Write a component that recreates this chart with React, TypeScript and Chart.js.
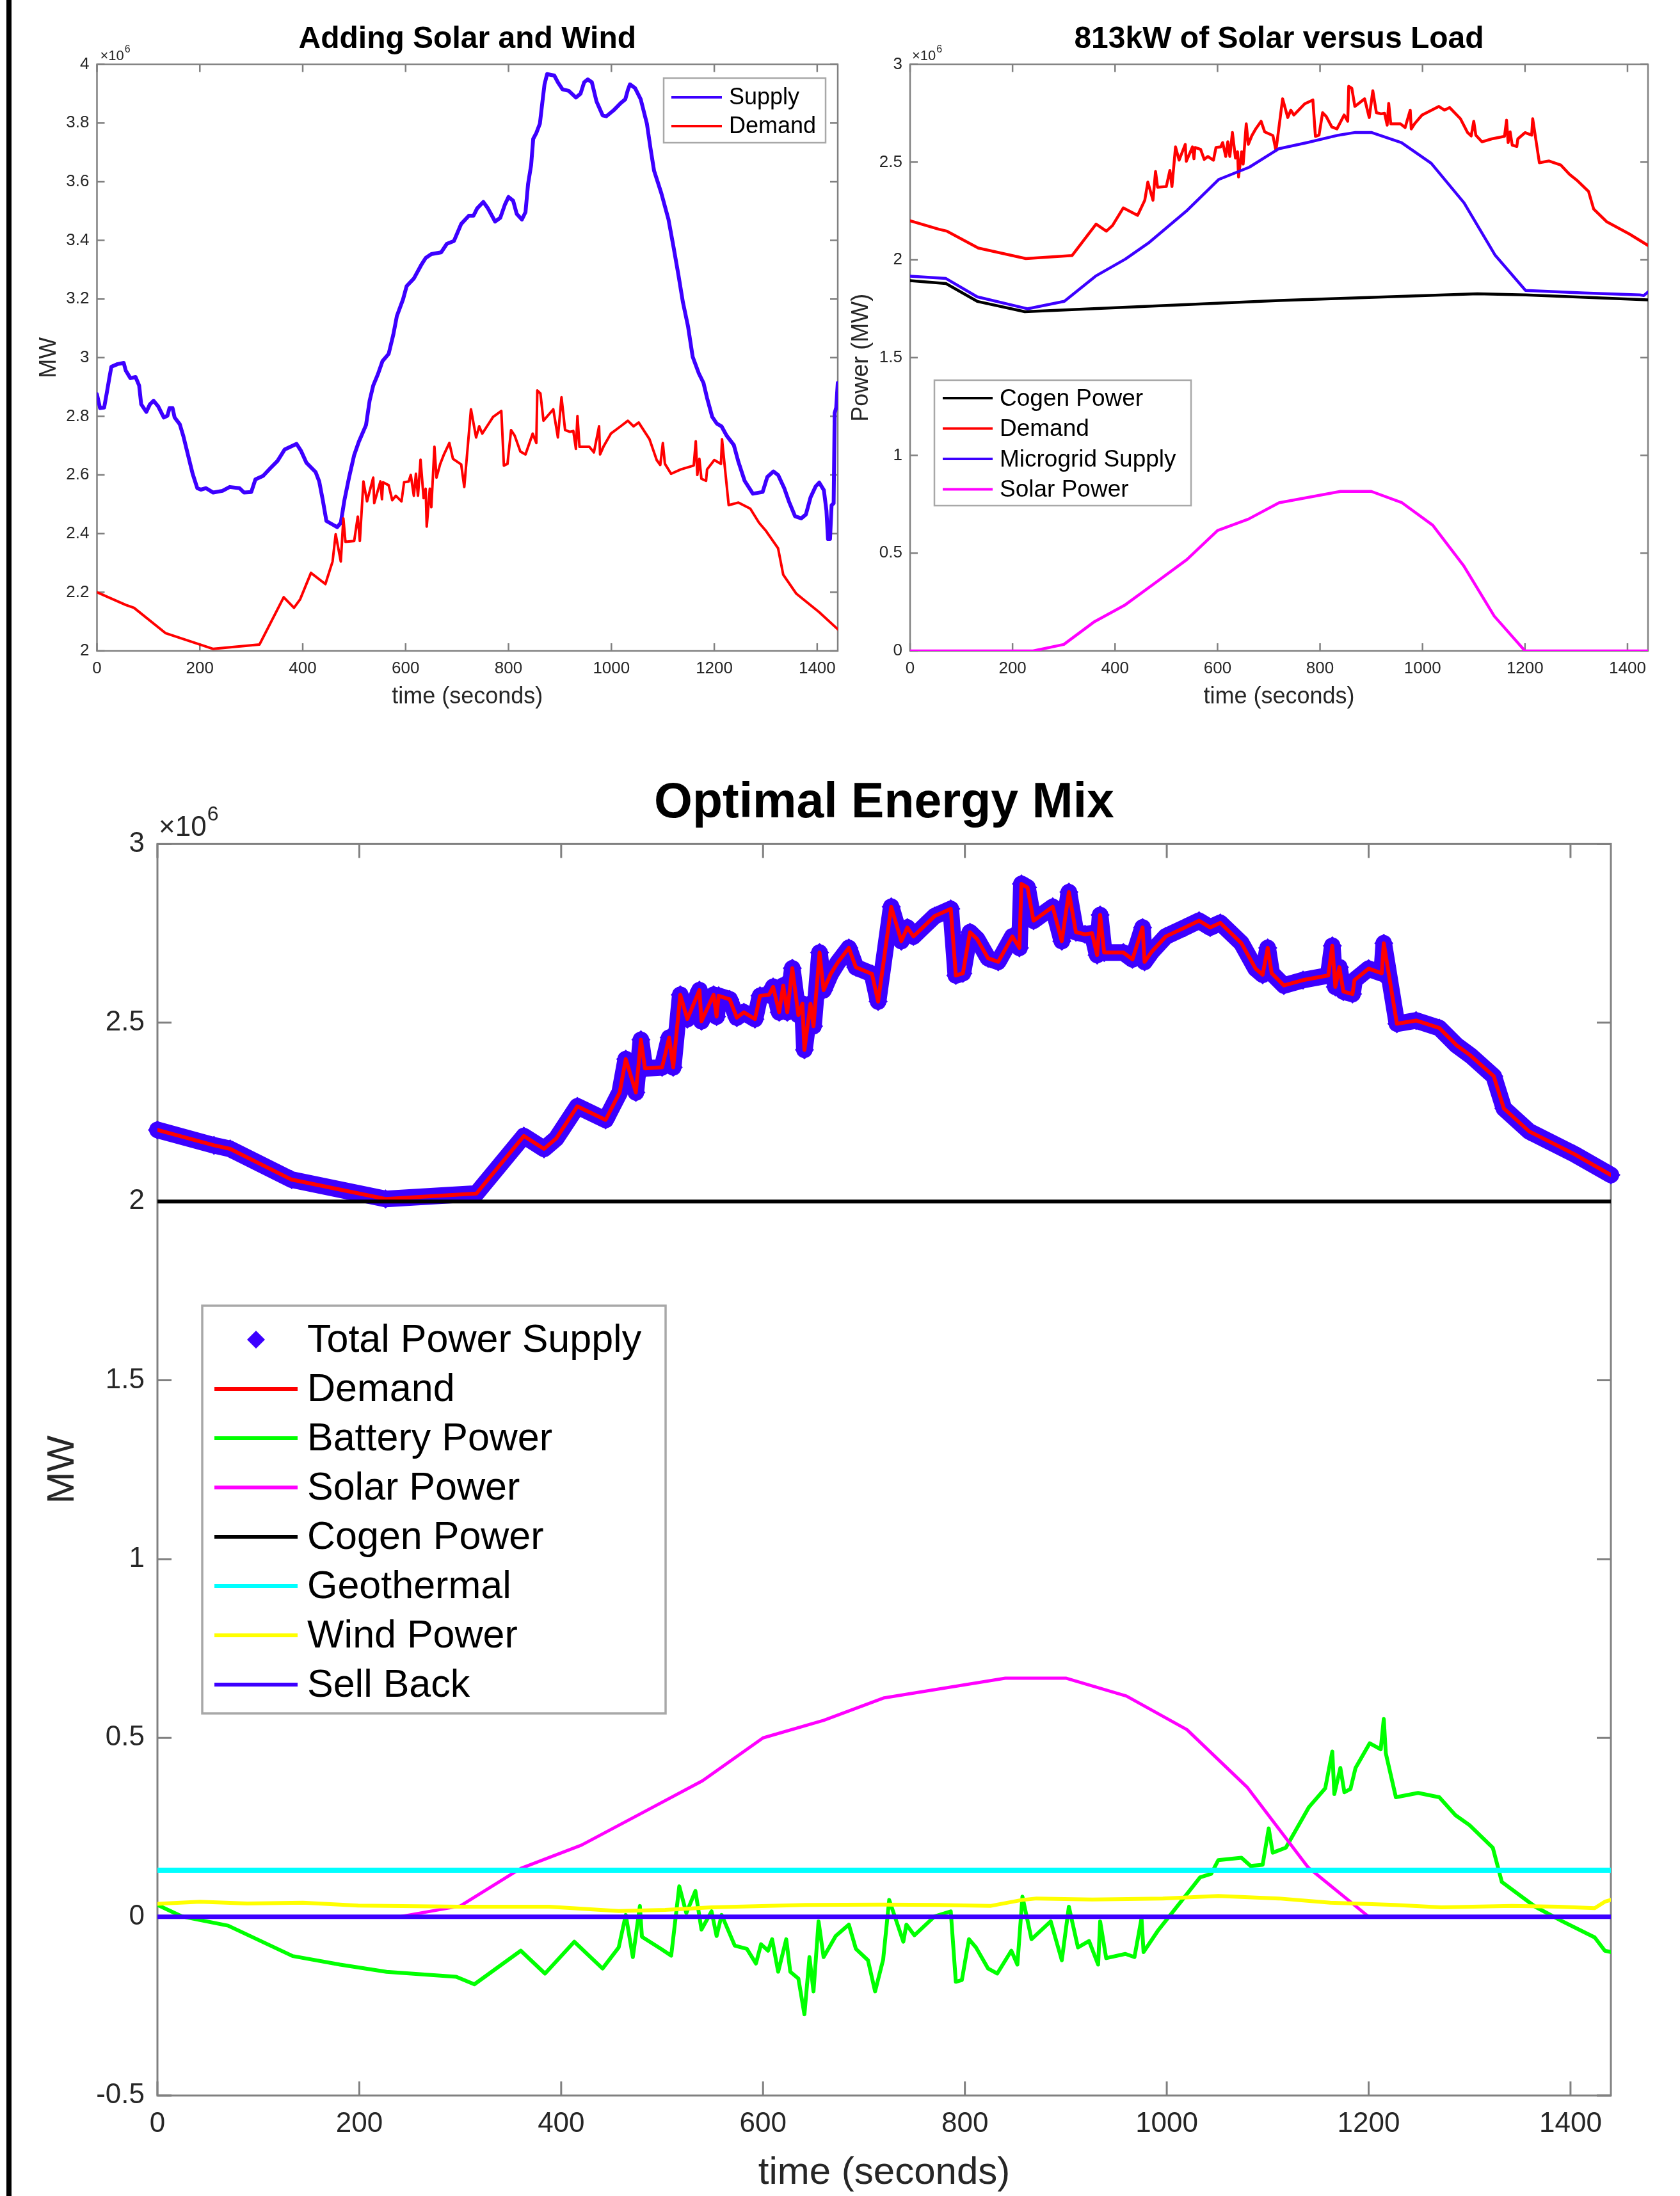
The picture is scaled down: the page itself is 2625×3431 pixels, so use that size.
import React, { useEffect, useRef } from 'react';
import { Chart, registerables } from 'chart.js';

Chart.register(...registerables);

type Pt = [number, number];

const FONT = "'Liberation Sans', Arial, Helvetica, sans-serif";
const BLUE = '#3c00ff';
const RED = '#ff0000';
const GREEN = '#00ff00';
const MAGENTA = '#ff00ff';
const CYAN = '#00ffff';
const YELLOW = '#ffff00';
const BLACK = '#000000';
const AXIS = '#808080';
const TXT = '#262626';

// ---------- tick labels ----------
const timeTicks = [0, 200, 400, 600, 800, 1000, 1200, 1400];
const yTicksSolarWind = [2, 2.2, 2.4, 2.6, 2.8, 3, 3.2, 3.4, 3.6, 3.8, 4];
const yTicks813 = [0, 0.5, 1, 1.5, 2, 2.5, 3];
const yTicksMix = [-0.5, 0, 0.5, 1, 1.5, 2, 2.5, 3];

// ---------- data (time in seconds, power in units of 10^6) ----------
const demand: Pt[] = [
  [0, 2.2], [56, 2.157], [72, 2.147], [133, 2.061], [226, 2.007], [316, 2.022], [363, 2.183], [383, 2.147],
  [395, 2.176], [416, 2.266], [444, 2.228], [458, 2.305], [464, 2.398], [474, 2.305], [479, 2.452], [483, 2.372],
  [500, 2.375], [507, 2.458], [511, 2.375], [518, 2.578], [525, 2.51], [537, 2.591], [539, 2.504], [551, 2.578],
  [554, 2.517], [556, 2.575], [567, 2.565], [574, 2.514], [581, 2.529], [592, 2.51], [597, 2.575], [606, 2.578],
  [610, 2.6], [616, 2.529], [620, 2.604], [624, 2.529], [629, 2.652], [635, 2.521], [639, 2.553], [641, 2.424],
  [647, 2.553], [650, 2.49], [656, 2.696], [660, 2.591], [667, 2.636], [674, 2.668], [685, 2.709], [692, 2.655],
  [708, 2.636], [714, 2.559], [727, 2.824], [737, 2.728], [743, 2.766], [749, 2.741], [756, 2.76], [770, 2.798],
  [786, 2.818], [791, 2.632], [798, 2.638], [805, 2.753], [812, 2.734], [823, 2.68], [833, 2.67], [847, 2.741],
  [854, 2.709], [856, 2.888], [862, 2.878], [868, 2.785], [887, 2.824], [896, 2.728], [903, 2.865], [910, 2.753],
  [919, 2.747], [926, 2.75], [931, 2.689], [934, 2.801], [938, 2.696], [957, 2.696], [966, 2.677], [976, 2.766],
  [978, 2.67], [985, 2.698], [999, 2.741], [1018, 2.766], [1032, 2.785], [1043, 2.766], [1053, 2.779], [1074, 2.722],
  [1088, 2.651], [1095, 2.634], [1100, 2.709], [1104, 2.638], [1116, 2.604], [1135, 2.619], [1160, 2.632], [1164, 2.715],
  [1167, 2.6], [1171, 2.655], [1175, 2.587], [1184, 2.58], [1186, 2.619], [1200, 2.651], [1213, 2.638], [1215, 2.722],
  [1228, 2.497], [1247, 2.506], [1270, 2.485], [1287, 2.437], [1301, 2.408], [1324, 2.35], [1334, 2.26], [1359, 2.196],
  [1404, 2.132], [1440, 2.074],
];

const supplySolarWind: Pt[] = [
  [0, 2.875], [6, 2.828], [14, 2.83], [19, 2.879], [24, 2.93], [28, 2.969], [40, 2.978], [52, 2.982], [56, 2.956],
  [65, 2.93], [75, 2.934], [82, 2.905], [86, 2.841], [96, 2.815], [103, 2.841], [110, 2.853], [119, 2.834], [130, 2.796],
  [137, 2.802], [141, 2.828], [147, 2.828], [151, 2.796], [161, 2.773], [168, 2.732], [177, 2.668], [186, 2.604],
  [195, 2.555], [202, 2.55], [212, 2.555], [226, 2.54], [244, 2.546], [258, 2.559], [277, 2.555], [286, 2.54],
  [300, 2.542], [308, 2.585], [323, 2.597], [337, 2.623], [351, 2.648], [365, 2.687], [388, 2.706], [397, 2.681],
  [407, 2.642], [425, 2.61], [432, 2.578], [439, 2.514], [446, 2.443], [458, 2.431], [467, 2.422], [474, 2.437],
  [481, 2.514], [490, 2.591], [500, 2.668], [509, 2.713], [523, 2.77], [530, 2.853], [537, 2.905], [546, 2.943],
  [555, 2.988], [567, 3.013], [576, 3.078], [583, 3.142], [595, 3.199], [602, 3.244], [616, 3.27], [630, 3.315],
  [639, 3.34], [650, 3.353], [669, 3.359], [680, 3.388], [694, 3.398], [708, 3.456], [723, 3.484], [732, 3.484],
  [739, 3.509], [751, 3.531], [760, 3.509], [774, 3.464], [784, 3.477], [793, 3.522], [800, 3.548], [809, 3.535],
  [816, 3.49], [826, 3.471], [833, 3.496], [838, 3.592], [844, 3.657], [848, 3.746], [854, 3.766], [861, 3.798],
  [866, 3.874], [870, 3.932], [875, 3.967], [889, 3.962], [896, 3.939], [905, 3.915], [917, 3.91], [931, 3.887],
  [940, 3.9], [947, 3.939], [954, 3.949], [962, 3.939], [971, 3.874], [983, 3.826], [990, 3.823], [1004, 3.843],
  [1018, 3.868], [1027, 3.881], [1032, 3.913], [1036, 3.932], [1046, 3.919], [1057, 3.881], [1069, 3.798], [1076, 3.714],
  [1083, 3.637], [1097, 3.561], [1111, 3.471], [1121, 3.375], [1130, 3.285], [1139, 3.189], [1149, 3.106], [1158, 3.003],
  [1170, 2.946], [1179, 2.914], [1186, 2.862], [1196, 2.798], [1205, 2.775], [1214, 2.766], [1224, 2.734], [1238, 2.702],
  [1247, 2.644], [1259, 2.58], [1275, 2.536], [1294, 2.542], [1303, 2.593], [1315, 2.612], [1324, 2.6], [1336, 2.555],
  [1345, 2.51], [1357, 2.459], [1369, 2.452], [1378, 2.465], [1387, 2.523], [1397, 2.561], [1404, 2.574], [1413, 2.548],
  [1418, 2.478], [1421, 2.382], [1425, 2.382], [1428, 2.497], [1432, 2.503], [1434, 2.811], [1437, 2.83], [1440, 2.914],
];

const cogen813: Pt[] = [
  [0, 1.894], [70, 1.879], [131, 1.788], [224, 1.735], [720, 1.792], [1107, 1.827], [1201, 1.821], [1440, 1.796],
];

const microgridSupply: Pt[] = [
  [0, 1.917], [70, 1.905], [131, 1.811], [229, 1.75], [301, 1.788], [362, 1.917], [420, 2.004], [467, 2.09],
  [541, 2.254], [602, 2.411], [662, 2.474], [719, 2.568], [775, 2.6], [836, 2.638], [869, 2.652], [900, 2.652],
  [959, 2.6], [1017, 2.494], [1081, 2.292], [1142, 2.023], [1201, 1.844], [1316, 1.831], [1424, 1.821], [1432, 1.818],
  [1440, 1.836],
];

const solar813: Pt[] = [
  [0, 0], [240, 0], [300, 0.033], [360, 0.15], [420, 0.236], [480, 0.351], [540, 0.467], [600, 0.616], [660, 0.674],
  [720, 0.758], [840, 0.816], [900, 0.816], [960, 0.758], [1020, 0.643], [1080, 0.437], [1140, 0.178], [1200, 0], [1440, 0],
];

// Optimal mix: total power supply follows the demand exactly
const totalPowerSupply: Pt[] = demand;

const batteryPower: Pt[] = [
  [0, 0.033], [24, 0.001], [70, -0.025], [134, -0.11], [181, -0.134], [227, -0.154], [296, -0.168], [314, -0.189],
  [360, -0.095], [384, -0.159], [413, -0.07], [441, -0.145], [457, -0.086], [464, 0.005], [471, -0.113], [478, 0.03],
  [480, -0.056], [499, -0.09], [509, -0.109], [517, 0.085], [524, 0.01], [533, 0.072], [539, -0.036], [549, 0.015],
  [554, -0.054], [559, 0.005], [572, -0.081], [584, -0.09], [593, -0.131], [598, -0.077], [605, -0.095], [609, -0.063],
  [615, -0.154], [623, -0.063], [627, -0.154], [635, -0.173], [641, -0.273], [646, -0.113], [650, -0.209], [655, -0.013],
  [660, -0.113], [672, -0.054], [685, -0.022], [692, -0.09], [704, -0.122], [711, -0.209], [719, -0.12], [725, 0.047],
  [739, -0.07], [742, -0.022], [750, -0.052], [770, 0.001], [786, 0.015], [791, -0.182], [797, -0.177], [804, -0.063],
  [811, -0.086], [823, -0.145], [832, -0.159], [846, -0.095], [852, -0.134], [857, 0.056], [866, -0.063], [885, -0.013],
  [896, -0.122], [903, 0.028], [912, -0.086], [923, -0.068], [932, -0.134], [934, -0.013], [940, -0.116], [959, -0.104],
  [968, -0.113], [975, -0.004], [977, -0.099], [991, -0.04], [1014, 0.042], [1033, 0.11], [1044, 0.12], [1051, 0.158],
  [1074, 0.165], [1083, 0.142], [1095, 0.145], [1101, 0.247], [1105, 0.179], [1118, 0.193], [1141, 0.307], [1157, 0.359],
  [1164, 0.462], [1166, 0.343], [1172, 0.416], [1176, 0.348], [1182, 0.357], [1187, 0.416], [1201, 0.485], [1212, 0.468],
  [1215, 0.553], [1217, 0.457], [1227, 0.334], [1249, 0.346], [1270, 0.334], [1286, 0.284], [1300, 0.256], [1323, 0.193],
  [1332, 0.097], [1365, 0.028], [1392, -0.013], [1424, -0.058], [1434, -0.095], [1440, -0.099],
];

const solarPower: Pt[] = [
  [0, 0], [240, 0], [300, 0.03], [360, 0.135], [420, 0.2], [480, 0.29], [540, 0.38], [600, 0.5], [660, 0.549],
  [720, 0.612], [840, 0.667], [900, 0.667], [960, 0.617], [1020, 0.523], [1080, 0.361], [1140, 0.138], [1200, 0], [1440, 0],
];

const cogenPower: Pt[] = [[0, 2], [1440, 2]];
const geothermal: Pt[] = [[0, 0.13], [1440, 0.13]];

const windPower: Pt[] = [
  [0, 0.036], [42, 0.042], [89, 0.037], [144, 0.039], [199, 0.031], [300, 0.028], [388, 0.028], [457, 0.016],
  [503, 0.019], [549, 0.026], [642, 0.033], [719, 0.034], [774, 0.033], [825, 0.03], [857, 0.047], [871, 0.051],
  [926, 0.048], [996, 0.051], [1051, 0.058], [1111, 0.051], [1162, 0.039], [1226, 0.033], [1272, 0.026], [1342, 0.03],
  [1388, 0.028], [1424, 0.024], [1434, 0.042], [1440, 0.047],
];

const sellBack: Pt[] = [[0, 0], [1440, 0]];

// ---------- helpers ----------
const toXY = (arr: Pt[]) => arr.map(([x, y]) => ({ x, y }));

function lineDs(label: string, data: Pt[], color: string, width: number, idx: number, extra: any = {}) {
  return {
    label,
    data: toXY(data),
    borderColor: color,
    backgroundColor: color,
    borderWidth: width,
    borderJoinStyle: 'round',
    borderCapStyle: 'round',
    pointRadius: 0,
    pointHoverRadius: 0,
    tension: 0,
    fill: false,
    order: -idx,
    ...extra,
  };
}

const axesBox = {
  id: 'axesBox',
  beforeDatasetsDraw(chart: any, _a: any, o: any) {
    const { ctx, chartArea: a, scales } = chart;
    ctx.save();
    ctx.strokeStyle = AXIS;
    ctx.lineWidth = o.width;
    ctx.strokeRect(a.left, a.top, a.right - a.left, a.bottom - a.top);
    const L = o.tickLen;
    ctx.beginPath();
    scales.x.ticks.forEach((t: any) => {
      const p = scales.x.getPixelForValue(t.value);
      ctx.moveTo(p, a.bottom); ctx.lineTo(p, a.bottom - L);
      ctx.moveTo(p, a.top); ctx.lineTo(p, a.top + L);
    });
    scales.y.ticks.forEach((t: any) => {
      const p = scales.y.getPixelForValue(t.value);
      ctx.moveTo(a.left, p); ctx.lineTo(a.left + L, p);
      ctx.moveTo(a.right, p); ctx.lineTo(a.right - L, p);
    });
    ctx.stroke();
    // exponent label
    ctx.fillStyle = TXT;
    ctx.textAlign = 'left';
    ctx.textBaseline = 'alphabetic';
    ctx.font = `${o.expSize}px ${FONT}`;
    const bx = a.left + o.expDx;
    const by = a.top - o.expDy;
    ctx.fillText('\u00d710', bx, by);
    const w = ctx.measureText('\u00d710').width;
    ctx.font = `${Math.round(o.expSize * 0.72)}px ${FONT}`;
    ctx.fillText('6', bx + w + 1, by - o.expSize * 0.55);
    ctx.restore();
  },
};

const boxLegend = {
  id: 'boxLegend',
  afterDatasetsDraw(chart: any, _a: any, o: any) {
    const { ctx } = chart;
    const ds = chart.data.datasets;
    ctx.save();
    ctx.fillStyle = '#ffffff';
    ctx.fillRect(o.x, o.y, o.w, o.h);
    ctx.strokeStyle = '#a8a8a8';
    ctx.lineWidth = o.borderWidth;
    ctx.strokeRect(o.x, o.y, o.w, o.h);
    ctx.font = `${o.font}px ${FONT}`;
    ctx.textAlign = 'left';
    ctx.textBaseline = 'middle';
    ds.forEach((d: any, k: number) => {
      const cy = o.y + o.firstRow + k * o.rowH;
      if (o.markerOnly.includes(k)) {
        const cx = (o.lineX0 + o.lineX1) / 2;
        const r = o.markerR;
        ctx.fillStyle = d.borderColor;
        ctx.beginPath();
        ctx.moveTo(cx, cy - r); ctx.lineTo(cx + r, cy); ctx.lineTo(cx, cy + r); ctx.lineTo(cx - r, cy);
        ctx.closePath();
        ctx.fill();
      } else {
        ctx.strokeStyle = d.borderColor;
        ctx.lineWidth = o.lineWidth;
        ctx.beginPath();
        ctx.moveTo(o.lineX0, cy); ctx.lineTo(o.lineX1, cy);
        ctx.stroke();
      }
      ctx.fillStyle = '#000000';
      ctx.fillText(d.label, o.textX, cy + o.font * 0.04);
    });
    ctx.restore();
  },
};

function makeScales(p: any) {
  return {
    x: {
      type: 'linear',
      min: 0,
      max: 1440,
      afterBuildTicks: (s: any) => { s.ticks = timeTicks.map((v) => ({ value: v })); },
      afterFit: (s: any) => { s.height = p.xHeight; },
      grid: { display: false, drawTicks: false },
      border: { display: false },
      ticks: {
        padding: p.xTickPad, autoSkip: false, maxRotation: 0, color: TXT,
        font: { size: p.tickFont, family: FONT },
        callback: (v: any) => String(v),
      },
      title: {
        display: true, text: 'time (seconds)', color: TXT,
        font: { size: p.titleFont, family: FONT },
        padding: { top: 0, bottom: p.xTitlePad },
      },
    },
    y: {
      type: 'linear',
      min: p.yMin,
      max: p.yMax,
      afterBuildTicks: (s: any) => { s.ticks = p.yTicks.map((v: number) => ({ value: v })); },
      afterFit: (s: any) => { s.width = p.yWidth; },
      grid: { display: false, drawTicks: false },
      border: { display: false },
      ticks: {
        padding: p.yTickPad, autoSkip: false, color: TXT,
        font: { size: p.tickFont, family: FONT },
        callback: (v: any) => String(v),
      },
      title: {
        display: true, text: p.yTitle, color: TXT,
        font: { size: p.titleFont, family: FONT },
        padding: { top: p.yTitlePad, bottom: 0 },
      },
    },
  };
}

function titleOpt(text: string, size: number, top: number, bottom: number) {
  return {
    display: true, text, color: '#000000', fullSize: false,
    font: { size, weight: 'bold', family: FONT },
    padding: { top, bottom },
  };
}

const baseOptions = {
  responsive: false,
  animation: false,
  events: [],
};

function buildSolarWind() {
  return {
    type: 'line',
    data: {
      datasets: [
        lineDs('Supply', supplySolarWind, BLUE, 6, 0),
        lineDs('Demand', demand, RED, 4, 1),
      ],
    },
    options: {
      ...baseOptions,
      layout: { padding: { left: 0, right: 11, top: 0, bottom: 0 } },
      plugins: {
        legend: { display: false },
        tooltip: { enabled: false },
        title: titleOpt('Adding Solar and Wind', 48, 33, 10),
        axesBox: { width: 2.5, tickLen: 12, expSize: 22, expDx: 5, expDy: 7 },
        boxLegend: {
          x: 1017, y: 122, w: 253, h: 101, firstRow: 30, rowH: 45,
          lineX0: 1029, lineX1: 1108, textX: 1119, font: 36, lineWidth: 4, borderWidth: 2.5, markerOnly: [],
        },
      },
      scales: makeScales({
        xHeight: 113, xTickPad: 12, xTitlePad: 19, tickFont: 26, titleFont: 36,
        yMin: 2, yMax: 4, yTicks: yTicksSolarWind, yWidth: 131.5, yTickPad: 12, yTitle: 'MW', yTitlePad: 35,
      }),
    },
    plugins: [axesBox, boxLegend],
  };
}

function build813() {
  return {
    type: 'line',
    data: {
      datasets: [
        lineDs('Cogen Power', cogen813, BLACK, 4.5, 0),
        lineDs('Demand', demand, RED, 4.5, 1),
        lineDs('Microgrid Supply', microgridSupply, BLUE, 4.5, 2),
        lineDs('Solar Power', solar813, MAGENTA, 4.5, 3),
      ],
    },
    options: {
      ...baseOptions,
      layout: { padding: { left: 0, right: 35, top: 0, bottom: 0 } },
      plugins: {
        legend: { display: false },
        tooltip: { enabled: false },
        title: titleOpt('813kW of Solar versus Load', 48, 33, 10),
        axesBox: { width: 2.5, tickLen: 12, expSize: 22, expDx: 3, expDy: 7 },
        boxLegend: {
          x: 140, y: 594, w: 401, h: 196, firstRow: 28, rowH: 47.5,
          lineX0: 153, lineX1: 231, textX: 242, font: 37, lineWidth: 4, borderWidth: 2.5, markerOnly: [],
        },
      },
      scales: makeScales({
        xHeight: 113, xTickPad: 12, xTitlePad: 19, tickFont: 26, titleFont: 36,
        yMin: 0, yMax: 3, yTicks: yTicks813, yWidth: 102, yTickPad: 12, yTitle: 'Power (MW)', yTitlePad: 4,
      }),
    },
    plugins: [axesBox, boxLegend],
  };
}

function buildMix() {
  return {
    type: 'line',
    data: {
      datasets: [
        lineDs('Total Power Supply', totalPowerSupply, BLUE, 26, 0, {
          pointRadius: 15, pointStyle: 'rectRot', pointBackgroundColor: BLUE, pointBorderColor: BLUE,
          pointBorderWidth: 0, clip: false,
        }),
        lineDs('Demand', demand, RED, 6, 1),
        lineDs('Battery Power', batteryPower, GREEN, 6, 2),
        lineDs('Solar Power', solarPower, MAGENTA, 5, 3),
        lineDs('Cogen Power', cogenPower, BLACK, 6, 4),
        lineDs('Geothermal', geothermal, CYAN, 8, 5),
        lineDs('Wind Power', windPower, YELLOW, 6, 6),
        lineDs('Sell Back', sellBack, BLUE, 7, 7),
      ],
    },
    options: {
      ...baseOptions,
      layout: { padding: { left: 0, right: 43, top: 0, bottom: 0 } },
      plugins: {
        legend: { display: false },
        tooltip: { enabled: false },
        title: titleOpt('Optimal Energy Mix', 77, 60, 16),
        axesBox: { width: 3, tickLen: 22, expSize: 44, expDx: 2, expDy: 12 },
        boxLegend: {
          x: 296, y: 890, w: 724, h: 637, firstRow: 53, rowH: 77,
          lineX0: 315, lineX1: 445, textX: 460, font: 61, lineWidth: 6, borderWidth: 3.5,
          markerOnly: [0], markerR: 14,
        },
      },
      scales: makeScales({
        xHeight: 157, xTickPad: 18, xTitlePad: 0, tickFont: 44, titleFont: 60,
        yMin: -0.5, yMax: 3, yTicks: yTicksMix, yWidth: 226, yTickPad: 20, yTitle: 'MW', yTitlePad: 42,
      }),
    },
    plugins: [axesBox, boxLegend],
  };
}

function ChartCanvas({ left, top, width, height, build }: { left: number; top: number; width: number; height: number; build: () => any }) {
  const ref = useRef<HTMLCanvasElement>(null);
  useEffect(() => {
    if (!ref.current) return;
    const chart = new Chart(ref.current, build());
    return () => chart.destroy();
  }, []);
  return (
    <canvas
      ref={ref}
      width={width}
      height={height}
      style={{ position: 'absolute', left, top, width, height }}
    />
  );
}

export default function App() {
  return (
    <div style={{ position: 'absolute', left: 0, top: 0, width: 2625, height: 3431, background: '#ffffff', overflow: 'hidden' }}>
      <div style={{ position: 'absolute', left: 10, top: 0, width: 8, height: 3431, background: '#000000' }} />
      <ChartCanvas left={20} top={0} width={1300} height={1130} build={buildSolarWind} />
      <ChartCanvas left={1320} top={0} width={1290} height={1130} build={build813} />
      <ChartCanvas left={20} top={1150} width={2540} height={2281} build={buildMix} />
    </div>
  );
}
